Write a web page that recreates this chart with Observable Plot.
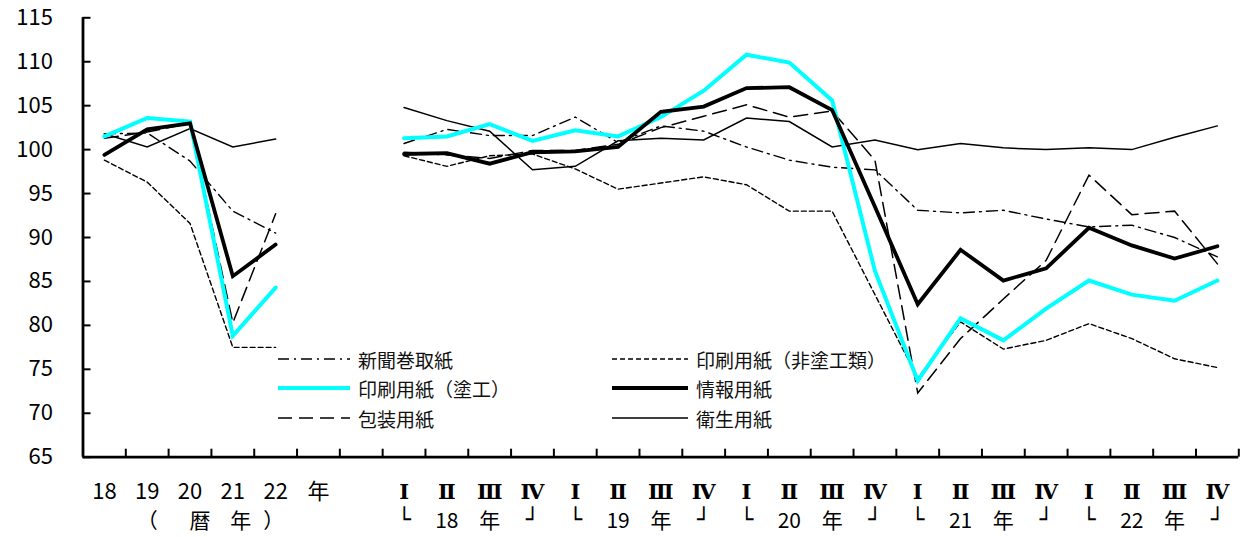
<!DOCTYPE html>
<html><head><meta charset="utf-8">
<script src="https://cdn.jsdelivr.net/npm/d3@7"></script>
<script src="https://cdn.jsdelivr.net/npm/@observablehq/plot@0.6"></script>
<style>
html,body{margin:0;padding:0;background:#fff;}
#wrap{position:relative;width:1242px;height:537px;font-family:"Noto Sans CJK JP",sans-serif;}
#wrap > svg{position:absolute;left:0;top:0;}
.lg{position:absolute;display:flex;align-items:center;font-size:19px;color:#111;white-space:nowrap;}
.lg svg{display:block;margin-right:8px;}
</style></head>
<body><div id="wrap"></div>
<script>
// ---- data ----
const annualLabels = ["18","19","20","21","22"];
const unitLabel = "年";
const quarterLabels = ["Ⅰ","Ⅱ","Ⅲ","Ⅳ"];
const quarterYears = ["18","19","20","21","22"];
const yTicks = [65,70,75,80,85,90,95,100,105,110,115];

const seriesNames = ["新聞巻取紙","印刷用紙(非塗工類)","印刷用紙(塗工)","情報用紙","包装用紙","衛生用紙"];

const annual_shinbun = [101.8, 101.9, 98.7, 93.0, 90.5];
const annual_hitoko  = [98.8, 96.3, 91.6, 77.5, 77.5];
const annual_toko    = [101.5, 103.6, 103.2, 78.8, 84.3];
const annual_joho    = [99.4, 102.3, 103.0, 85.6, 89.2];
const annual_hoso    = [101.3, 102.0, 103.0, 80.3, 92.7];
const annual_eisei   = [101.8, 100.3, 102.4, 100.3, 101.2];

const q_shinbun = [100.7,102.3,101.6,101.6, 103.7,100.8,102.7,102.1, 100.3,98.8,98.0,97.7, 93.1,92.8,93.1,92.1, 91.2,91.4,90.0,87.8];
const q_hitoko  = [99.3,98.1,99.3,99.5, 97.8,95.5,96.2,96.9, 96.0,93.0,93.0,83.5, 74.0,80.4,77.3,78.3, 80.2,78.5,76.2,75.2];
const q_toko    = [101.3,101.5,102.9,101.0, 102.2,101.5,103.7,106.7, 110.8,109.9,105.6,86.2, 73.7,80.8,78.3,81.9, 85.1,83.5,82.8,85.1];
const q_joho    = [99.5,99.6,98.4,99.7, 99.8,100.3,104.3,104.9, 107.0,107.1,104.5,93.5, 82.4,88.6,85.1,86.5, 91.1,89.1,87.6,89.0];
const q_hoso    = [99.7,99.4,99.0,99.9, 99.9,100.6,102.5,103.8, 105.1,103.7,104.4,98.8, 72.3,78.5,83.0,87.4, 97.1,92.6,93.0,87.0];
const q_eisei   = [104.8,103.3,102.1,97.7, 98.1,101.0,101.3,101.1, 103.6,103.2,100.3,101.1, 100.0,100.7,100.2,100.0, 100.2,100.0,101.4,102.7];

const styles = {
  "新聞巻取紙":        {stroke:"#000", strokeWidth:1.4, strokeDasharray:"11,5,2,5"},
  "印刷用紙(非塗工類)": {stroke:"#000", strokeWidth:1.4, strokeDasharray:"5,3"},
  "印刷用紙(塗工)":     {stroke:"#00FFFF", strokeWidth:4, strokeDasharray:null},
  "情報用紙":          {stroke:"#000", strokeWidth:3.8, strokeDasharray:null},
  "包装用紙":          {stroke:"#000", strokeWidth:1.5, strokeDasharray:"14,7"},
  "衛生用紙":          {stroke:"#000", strokeWidth:1.5, strokeDasharray:null}
};

// ---- build ----
const quarterCats = quarterYears.flatMap(y => quarterLabels.map(q => ({y, q})));
const qStart = annualLabels.length + 2;
const xLabels = [...annualLabels, unitLabel, "", ...quarterCats.map(d => d.q)];
const annualData = [annual_shinbun, annual_hitoko, annual_toko, annual_joho, annual_hoso, annual_eisei];
const quarterData = [q_shinbun, q_hitoko, q_toko, q_joho, q_hoso, q_eisei];
const rows = [];
seriesNames.forEach((name, s) => {
  annualData[s].forEach((v, i) => rows.push({name, seg:"a", x:i, v}));
  quarterData[s].forEach((v, i) => rows.push({name, seg:"q", x:qStart + i, v}));
});
const xMin = -0.5, xMax = xLabels.length - 0.5;
const boundaries = d3.range(xMin + 1, xMax + 0.001, 1);
const yMin = yTicks[0], yMax = yTicks[yTicks.length-1];

const drawOrder = ["衛生用紙","新聞巻取紙","印刷用紙(非塗工類)","包装用紙","印刷用紙(塗工)","情報用紙"];
const lineMarks = drawOrder.map(name => Plot.line(rows.filter(r => r.name === name), {
  x:"x", y:"v", z:"seg", ...styles[name], strokeLinejoin:"miter", strokeMiterlimit:3
}));

const labelRow1Num = xLabels.map((t,i)=>({t,i})).filter((d,i)=> i < qStart && d.t !== "");
const labelRow1Rom = xLabels.map((t,i)=>({t,i})).filter((d,i)=> i >= qStart);
const annualRow2 = [{t:"（", i:1, dx:0},{t:"暦", i:2, dx:10},{t:"年", i:3, dx:8},{t:"）", i:4, dx:-2}];
const quarterRow2Text = quarterYears.flatMap((y, k) => [
  {t:y, i:qStart + 4*k + 1}, {t:"年", i:qStart + 4*k + 2}
]);
const quarterRow2Br = quarterYears.flatMap((y, k) => [
  {t:"└", i:qStart + 4*k}, {t:"┘", i:qStart + 4*k + 3}
]);

const fontFam = "Noto Sans CJK JP, sans-serif";
const chart = Plot.plot({
  width:1242, height:537,
  marginLeft:82.5, marginRight:3.7, marginTop:17.3, marginBottom:80.3,
  style:{fontFamily:fontFam, background:"#fff", color:"#000"},
  x:{type:"linear", domain:[xMin, xMax], axis:null},
  y:{domain:[yMin, yMax], axis:null},
  marks:[
    Plot.axisY({ticks:yTicks, tickSize:0, tickPadding:30, fontSize:22, tickFormat:d=>String(d), label:null}),
    Plot.axisY({ticks:yTicks, tickSize:8, dx:8, text:null, strokeWidth:2, label:null}),
    Plot.axisX({ticks:boundaries, tickSize:8, dy:-8, text:null, strokeWidth:2, label:null}),
    ...lineMarks,
    Plot.ruleX([xMin], {y1:yMin, y2:yMax, strokeWidth:2.8}),
    Plot.ruleY([yMin], {x1:xMin, x2:xMax, strokeWidth:2.8}),
    Plot.text(labelRow1Num, {x:"i", y:()=>yMin, text:"t", dy:35, fontSize:22, fill:"#000"}),
    Plot.text(labelRow1Rom, {x:"i", y:()=>yMin, text:"t", dy:35, fontSize:21, fill:"#000", fontFamily:"DejaVu Serif, serif", fontWeight:"bold"}),
    ...annualRow2.map(d => Plot.text([d], {x:"i", y:()=>yMin, text:"t", dx:d.dx, dy:64, fontSize:21, fill:"#000"})),
    Plot.text(quarterRow2Text, {x:"i", y:()=>yMin, text:"t", dy:64, fontSize:21, fill:"#000"}),
    Plot.text(quarterRow2Br, {x:"i", y:()=>yMin, text:"t", dy:63, fontSize:22, fill:"#000", fontFamily:"DejaVu Sans, sans-serif"})
  ]
});
document.getElementById("wrap").appendChild(chart);

// ---- legend ----
const legendLayout = [
  {name:"新聞巻取紙", col:0, row:0},
  {name:"印刷用紙(塗工)", label:"印刷用紙（塗工）", col:0, row:1},
  {name:"包装用紙", col:0, row:2},
  {name:"印刷用紙(非塗工類)", label:"印刷用紙（非塗工類）", col:1, row:0},
  {name:"情報用紙", col:1, row:1},
  {name:"衛生用紙", col:1, row:2}
];
const colX = [278, 612], rowY = [359, 388, 418];
legendLayout.forEach(e => {
  const st = styles[e.name];
  const div = document.createElement("div");
  div.className = "lg";
  div.style.left = colX[e.col] + "px";
  div.style.top = (rowY[e.row] - 14) + "px";
  div.style.height = "28px";
  const w = e.col === 0 ? 72 : 76;
  div.innerHTML = `<svg width="${w}" height="10"><line x1="0" y1="5" x2="${w}" y2="5" stroke="${st.stroke}" stroke-width="${st.strokeWidth}" ${st.strokeDasharray ? `stroke-dasharray="${st.strokeDasharray}"` : ""}/></svg><span>${e.label || e.name}</span>`;
  document.getElementById("wrap").appendChild(div);
});
</script></body></html>
